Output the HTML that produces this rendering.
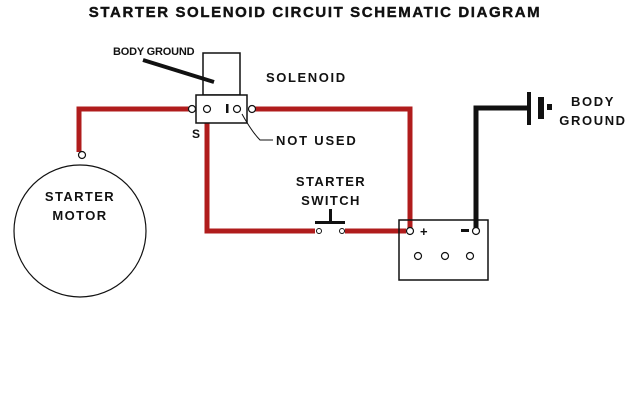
<!DOCTYPE html>
<html><head><style>
body{margin:0;background:#fff}
svg{display:block}
text{font-family:"Liberation Sans",sans-serif;font-weight:bold;fill:#111}
</style></head><body>
<svg width="640" height="408" viewBox="0 0 640 408">
<rect width="640" height="408" fill="#fff"/>
<text x="315" y="17" font-size="15" text-anchor="middle" letter-spacing="1.6" stroke="#111" stroke-width="0.4">STARTER SOLENOID CIRCUIT SCHEMATIC DIAGRAM</text>
<g stroke="#b01c1c" stroke-width="5" fill="none">
<polyline points="189,109 79,109 79,152"/>
<polyline points="255,109 410,109 410,228"/>
<polyline points="207,113 207,231 315,231"/>
<line x1="345" y1="231" x2="406" y2="231"/>
</g>
<polyline points="476,228 476,108 528,108" stroke="#111" stroke-width="5" fill="none"/>
<rect x="527" y="92" width="4" height="33" fill="#111"/>
<rect x="538" y="97" width="6" height="22" fill="#111"/>
<rect x="547" y="104" width="5" height="6" fill="#111"/>
<rect x="203" y="53" width="37" height="42" fill="#fff" stroke="#111" stroke-width="1.5"/>
<rect x="196" y="95" width="51" height="28" fill="#fff" stroke="#111" stroke-width="1.5"/>
<g fill="#fff" stroke="#111" stroke-width="1.2">
<circle cx="192" cy="109" r="3.5"/><circle cx="207" cy="109" r="3.5"/>
<circle cx="237" cy="109" r="3.5"/><circle cx="252" cy="109" r="3.5"/>
</g>
<rect x="226" y="104" width="2.5" height="9" fill="#111"/>
<line x1="143" y1="60" x2="214" y2="82" stroke="#111" stroke-width="4"/>
<text x="113" y="55" font-size="11" letter-spacing="-0.2">BODY GROUND</text>
<text x="266" y="82" font-size="13" letter-spacing="1.6">SOLENOID</text>
<text x="192" y="138" font-size="12">S</text>
<path d="M242,114 Q252,132 260,140 L273,140" stroke="#111" stroke-width="1" fill="none"/>
<text x="276" y="145" font-size="13" letter-spacing="1.8">NOT USED</text>
<text x="331" y="186" font-size="13" text-anchor="middle" letter-spacing="1.4">STARTER</text>
<text x="331" y="205" font-size="13" text-anchor="middle" letter-spacing="1.4">SWITCH</text>
<rect x="315" y="221" width="30" height="3" fill="#111"/>
<rect x="329" y="209" width="3" height="13" fill="#111"/>
<circle cx="319" cy="231" r="2.5" fill="#fff" stroke="#111"/>
<circle cx="342" cy="231" r="2.5" fill="#fff" stroke="#111"/>
<circle cx="80" cy="231" r="66" fill="none" stroke="#111" stroke-width="1.2"/>
<circle cx="82" cy="155" r="3.5" fill="#fff" stroke="#111" stroke-width="1.2"/>
<text x="80" y="201" font-size="13" text-anchor="middle" letter-spacing="1.4">STARTER</text>
<text x="80" y="220" font-size="13" text-anchor="middle" letter-spacing="1.4">MOTOR</text>
<rect x="399" y="220" width="89" height="60" fill="none" stroke="#111" stroke-width="1.5"/>
<circle cx="410" cy="231" r="3.5" fill="#fff" stroke="#111" stroke-width="1.2"/>
<circle cx="476" cy="231" r="3.5" fill="#fff" stroke="#111" stroke-width="1.2"/>
<text x="420" y="236" font-size="13">+</text>
<rect x="461" y="229" width="8" height="3" fill="#111"/>
<g fill="#fff" stroke="#111" stroke-width="1.2">
<circle cx="418" cy="256" r="3.5"/><circle cx="445" cy="256" r="3.5"/><circle cx="470" cy="256" r="3.5"/>
</g>
<text x="593" y="106" font-size="13" text-anchor="middle" letter-spacing="1.6">BODY</text>
<text x="593" y="125" font-size="13" text-anchor="middle" letter-spacing="1.6">GROUND</text>
</svg>
</body></html>
